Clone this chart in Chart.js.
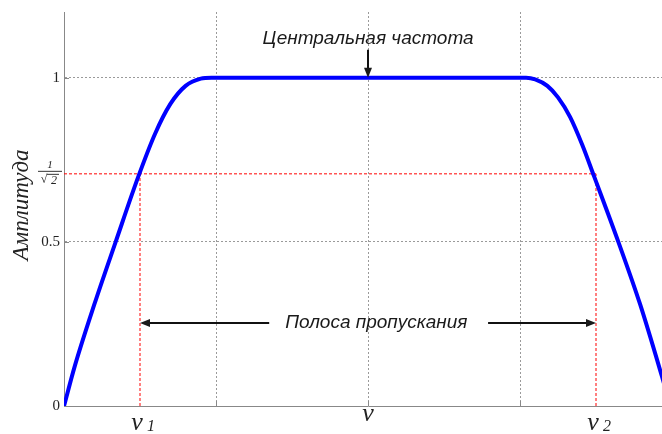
<!DOCTYPE html>
<html>
<head>
<meta charset="utf-8">
<script src="https://cdn.jsdelivr.net/npm/chart.js@4/dist/chart.umd.min.js"></script>
<style>
  html, body { margin: 0; padding: 0; background: #fff; overflow: hidden; }
  #wrap { width: 672px; height: 434px; }
</style>
</head>
<body>
<div id="wrap"><canvas id="chart_band" width="672" height="434"></canvas></div>
<script>
// Frequency response of a band-pass filter (normalised amplitude)
const freq = [-2, -1.93, -1.80, -1.66, -1.51, -1.40, -1.30, -1.20, -1.10, -1.03,
              0, 1.04, 1.10, 1.18, 1.25, 1.33, 1.41, 1.487, 1.647, 1.79, 1.934, 1.99];
const amplitude = [0, 0.12, 0.31, 0.50, 0.70, 0.83, 0.92, 0.975, 0.997, 1,
                   1, 1, 0.995, 0.975, 0.94, 0.88, 0.795, 0.70, 0.50, 0.31, 0.09, 0];

// half-power level and band edges
const cutoff = 1 / Math.SQRT2;
const bandEdges = [-1.5, 1.5];

// tick labels
const yTickValues = [0, 0.5, 1];
const yTickLabels = ['0', '0.5', '1'];
const xLabelValues = [-1.5, 0, 1.5];
const xLabelSubs = ['1', '', '2'];
const gridX = [-1, 0, 1];
const gridY = [0.5, 1];

const curve = freq.map((f, i) => ({ x: f, y: amplitude[i] }));

const redLine = pts => ({
    data: pts,
    borderColor: '#ff0000',
    borderWidth: 1,
    borderDash: [3, 2],
    pointRadius: 0,
    order: 2
});

const drawArrow = (ctx, x1, y1, x2, y2) => {
    const ang = Math.atan2(y2 - y1, x2 - x1);
    const head = 10;
    ctx.beginPath();
    ctx.moveTo(x1, y1);
    ctx.lineTo(x2 - head * 0.8 * Math.cos(ang), y2 - head * 0.8 * Math.sin(ang));
    ctx.stroke();
    ctx.beginPath();
    ctx.moveTo(x2, y2);
    ctx.lineTo(x2 - head * Math.cos(ang) + 4 * Math.sin(ang), y2 - head * Math.sin(ang) - 4 * Math.cos(ang));
    ctx.lineTo(x2 - head * Math.cos(ang) - 4 * Math.sin(ang), y2 - head * Math.sin(ang) + 4 * Math.cos(ang));
    ctx.closePath();
    ctx.fill();
};

const overlay = {
    id: 'overlay',
    afterDraw(chart) {
        const ctx = chart.ctx;
        const x = chart.scales.x;
        const y = chart.scales.y;
        ctx.save();

        // small inward ticks
        ctx.strokeStyle = '#888';
        ctx.lineWidth = 1;
        gridX.forEach(v => {
            const px = Math.round(x.getPixelForValue(v)) + 0.5;
            ctx.beginPath();
            ctx.moveTo(px, y.bottom);
            ctx.lineTo(px, y.bottom - 5);
            ctx.stroke();
        });
        gridY.forEach(v => {
            const py = Math.round(y.getPixelForValue(v)) + 0.5;
            ctx.beginPath();
            ctx.moveTo(x.left, py);
            ctx.lineTo(x.left + 5, py);
            ctx.stroke();
        });

        // annotations
        ctx.fillStyle = '#1a1a1a';
        ctx.strokeStyle = '#111';
        ctx.lineWidth = 2;
        ctx.font = 'italic 19px "Liberation Sans", Arial, sans-serif';
        ctx.textAlign = 'center';
        ctx.textBaseline = 'middle';
        const cx = x.getPixelForValue(0);
        ctx.fillText('Центральная частота', cx, y.getPixelForValue(1.12));
        drawArrow(ctx, cx, y.getPixelForValue(1.085), cx, y.getPixelForValue(1.0));

        const by = y.getPixelForValue(0.253);
        ctx.fillText('Полоса пропускания', x.getPixelForValue(0.055), by);
        drawArrow(ctx, x.getPixelForValue(-0.65), by, x.getPixelForValue(bandEdges[0]), by);
        drawArrow(ctx, x.getPixelForValue(0.79), by, x.getPixelForValue(bandEdges[1]), by);

        // y tick labels
        ctx.fillStyle = '#222';
        ctx.font = '15px "Liberation Serif", "Times New Roman", serif';
        ctx.textAlign = 'right';
        yTickValues.forEach((v, i) => {
            ctx.fillText(yTickLabels[i], x.left - 4, y.getPixelForValue(v));
        });

        // 1/sqrt(2) fraction
        const fy = y.getPixelForValue(cutoff);
        ctx.textAlign = 'center';
        ctx.font = 'italic 11px "Liberation Serif", serif';
        ctx.fillText('1', 50, fy - 9);
        ctx.lineWidth = 1;
        ctx.strokeStyle = '#333';
        ctx.beginPath();
        ctx.moveTo(38, fy - 2.5);
        ctx.lineTo(62, fy - 2.5);
        ctx.stroke();
        ctx.font = '12px "Liberation Serif", serif';
        ctx.fillText('\u221A', 44, fy + 6);
        ctx.font = 'italic 12px "Liberation Serif", serif';
        ctx.fillText('2', 54, fy + 7);
        ctx.beginPath();
        ctx.moveTo(47, fy + 0.5);
        ctx.lineTo(59, fy + 0.5);
        ctx.stroke();

        // x labels (frequencies)
        xLabelValues.forEach((v, i) => {
            const px = x.getPixelForValue(v);
            const sub = xLabelSubs[i];
            const ly = sub ? 423 : 414;
            ctx.font = 'italic 26px "Liberation Serif", serif';
            ctx.textAlign = 'center';
            ctx.fillText('\u03BD', sub ? px - 3 : px, ly);
            if (sub) {
                ctx.font = 'italic 16px "Liberation Serif", serif';
                ctx.fillText(sub, px + 11, ly + 4);
            }
        });

        // y axis title
        ctx.translate(22, 205);
        ctx.rotate(-Math.PI / 2);
        ctx.font = 'italic 23px "Liberation Serif", serif';
        ctx.textAlign = 'center';
        ctx.fillText('Амплитуда', 0, 0);
        ctx.restore();
    }
};

new Chart(document.getElementById('chart_band'), {
    type: 'line',
    data: {
        datasets: [
            {
                data: curve,
                borderColor: '#0000ff',
                borderWidth: 4,
                pointRadius: 0,
                cubicInterpolationMode: 'monotone',
                order: 0
            },
            redLine([{ x: -2, y: cutoff }, { x: bandEdges[1], y: cutoff }]),
            redLine([{ x: bandEdges[0], y: 0 }, { x: bandEdges[0], y: cutoff }]),
            redLine([{ x: bandEdges[1], y: 0 }, { x: bandEdges[1], y: cutoff }])
        ]
    },
    options: {
        responsive: false,
        animation: false,
        layout: { padding: { left: 64, top: 12, right: 0, bottom: 28 } },
        plugins: { legend: { display: false }, tooltip: { enabled: false } },
        scales: {
            x: {
                type: 'linear',
                min: -2,
                max: 2,
                afterBuildTicks: s => { s.ticks = gridX.map(v => ({ value: v })); },
                ticks: { display: false },
                grid: { color: '#9a9a9a', drawTicks: false, lineWidth: 1 },
                border: { color: '#888', width: 1, dash: [2, 2] }
            },
            y: {
                min: 0,
                max: 1.2,
                afterBuildTicks: s => { s.ticks = gridY.map(v => ({ value: v })); },
                ticks: { display: false },
                grid: { color: '#9a9a9a', drawTicks: false, lineWidth: 1 },
                border: { color: '#888', width: 1, dash: [2, 2] }
            }
        }
    },
    plugins: [overlay]
});
</script>
</body>
</html>
